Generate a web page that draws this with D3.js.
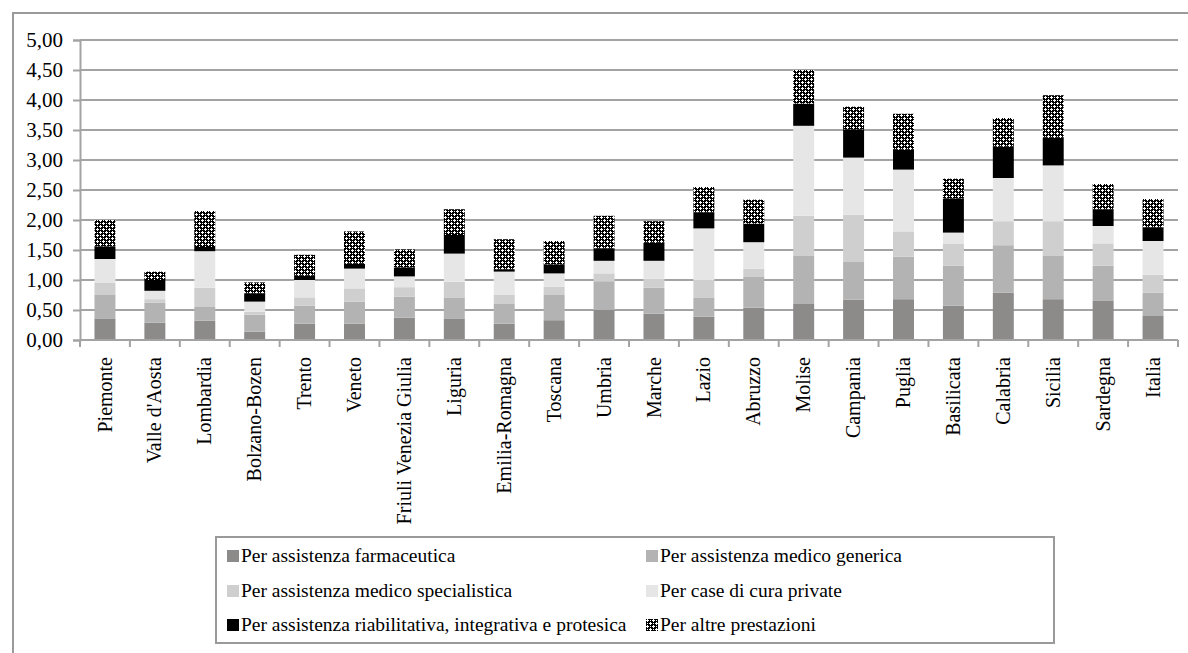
<!DOCTYPE html>
<html>
<head>
<meta charset="utf-8">
<script src="https://cdn.jsdelivr.net/npm/d3@7"></script>
<style>
  body { margin: 0; background: #fff; }
  svg { display: block; }
  svg text { font-family: "Liberation Serif", "DejaVu Serif", serif !important; fill: #000; }
</style>
</head>
<body>
<svg id="chart" width="1188" height="653"></svg>
<script>
// Regions (x categories)
const regions = ["Piemonte", "Valle d'Aosta", "Lombardia", "Bolzano-Bozen", "Trento", "Veneto",
  "Friuli Venezia Giulia", "Liguria", "Emilia-Romagna", "Toscana", "Umbria", "Marche", "Lazio",
  "Abruzzo", "Molise", "Campania", "Puglia", "Basilicata", "Calabria", "Sicilia", "Sardegna", "Italia"];

// Stacked components, bottom to top
const farmaceutica   = [0.36, 0.29, 0.32, 0.14, 0.27, 0.27, 0.37, 0.36, 0.27, 0.33, 0.50, 0.44, 0.39, 0.54, 0.60, 0.67, 0.68, 0.57, 0.79, 0.68, 0.66, 0.40];
const medicoGenerica = [0.39, 0.33, 0.23, 0.28, 0.30, 0.37, 0.35, 0.35, 0.33, 0.42, 0.48, 0.43, 0.32, 0.51, 0.81, 0.63, 0.71, 0.67, 0.79, 0.73, 0.58, 0.39];
const medicoSpecial  = [0.20, 0.06, 0.32, 0.05, 0.14, 0.22, 0.16, 0.26, 0.15, 0.14, 0.13, 0.15, 0.29, 0.14, 0.66, 0.79, 0.42, 0.36, 0.40, 0.57, 0.37, 0.30];
const caseCura       = [0.40, 0.14, 0.61, 0.17, 0.29, 0.33, 0.18, 0.47, 0.39, 0.22, 0.21, 0.30, 0.86, 0.44, 1.50, 0.95, 1.03, 0.19, 0.72, 0.93, 0.29, 0.56];
const riabilitativa  = [0.21, 0.18, 0.07, 0.14, 0.07, 0.08, 0.15, 0.31, 0.04, 0.15, 0.21, 0.30, 0.27, 0.31, 0.37, 0.47, 0.33, 0.57, 0.52, 0.46, 0.28, 0.23];
const altre          = [0.44, 0.14, 0.60, 0.18, 0.35, 0.54, 0.30, 0.43, 0.50, 0.39, 0.54, 0.36, 0.42, 0.40, 0.56, 0.38, 0.60, 0.33, 0.48, 0.71, 0.42, 0.47];

const seriesNames = [
  "Per assistenza farmaceutica",
  "Per assistenza medico generica",
  "Per assistenza medico specialistica",
  "Per case di cura private",
  "Per assistenza riabilitativa, integrativa e protesica",
  "Per altre prestazioni"
];
const seriesValues = [farmaceutica, medicoGenerica, medicoSpecial, caseCura, riabilitativa, altre];
const seriesFills = ["#8d8a8a", "#b3b3b3", "#cfcfcf", "#e6e6e6", "#000000", "url(#dots)"];

const yTicks = [0, 0.5, 1, 1.5, 2, 2.5, 3, 3.5, 4, 4.5, 5];

// Table for d3.stack
const table = regions.map((r, i) => {
  const row = { region: r };
  seriesNames.forEach((s, k) => row[s] = seriesValues[k][i]);
  return row;
});

const FONT = '"Liberation Serif", "DejaVu Serif", serif';
const svg = d3.select("#chart");
const plot = { left: 80, right: 1178, top: 40, bottom: 340 };
const gridColor = "#a3a3a3";

// Checker-cross fill for the last series
const defs = svg.append("defs");
const pat = defs.append("pattern").attr("id", "dots")
  .attr("patternUnits", "userSpaceOnUse").attr("width", 6).attr("height", 6);
pat.append("rect").attr("width", 6).attr("height", 6).attr("fill", "#000");
const whitePx = [[1,0],[0,1],[1,1],[2,1],[1,2],[4,3],[3,4],[4,4],[5,4],[4,5],[4,1],[1,4]];
pat.selectAll("rect.px").data(whitePx).join("rect").attr("class", "px")
  .attr("x", d => d[0]).attr("y", d => d[1]).attr("width", 1).attr("height", 1)
  .attr("fill", "#fff").attr("shape-rendering", "crispEdges");

// Chart frame (top and left edges)
svg.append("line").attr("x1", 12).attr("x2", 1188).attr("y1", 13).attr("y2", 13)
  .attr("stroke", "#9a9a9a").attr("stroke-width", 2);
svg.append("line").attr("x1", 13).attr("x2", 13).attr("y1", 12).attr("y2", 653)
  .attr("stroke", "#9a9a9a").attr("stroke-width", 2);

const x = d3.scaleBand().domain(regions).range([plot.left, plot.right])
  .paddingInner(0.58).paddingOuter(0.29);
const y = d3.scaleLinear().domain([0, 5]).range([plot.bottom, plot.top]);

const it = d3.formatLocale({ decimal: ",", thousands: ".", grouping: [3], currency: ["€", ""] });
const fmt = it.format(".2f");

// Gridlines
svg.append("g").selectAll("line").data(yTicks.filter(d => d > 0)).join("line")
  .attr("x1", plot.left).attr("x2", plot.right)
  .attr("y1", d => y(d)).attr("y2", d => y(d))
  .attr("stroke", gridColor).attr("stroke-width", 2);

// Y axis
const yAxis = svg.append("g").attr("transform", `translate(${plot.left},0)`)
  .call(d3.axisLeft(y).tickValues(yTicks).tickFormat(fmt).tickSize(7).tickPadding(10))
  .attr("font-family", FONT).attr("font-size", 21);
yAxis.select(".domain").attr("stroke", gridColor).attr("stroke-width", 2);
yAxis.selectAll(".tick line").attr("stroke", gridColor).attr("stroke-width", 2);
yAxis.selectAll("text").attr("font-family", FONT).attr("font-size", 21).attr("fill", "#000");

// Stacked bars
const stack = d3.stack().keys(seriesNames)(table);
svg.append("g").selectAll("g").data(stack).join("g")
  .attr("fill", (d, i) => seriesFills[i])
  .selectAll("rect").data(d => d).join("rect")
  .attr("x", d => x(d.data.region))
  .attr("width", x.bandwidth())
  .attr("y", d => y(d[1]))
  .attr("height", d => y(d[0]) - y(d[1]));

// X axis with category labels
const xAxis = svg.append("g").attr("transform", `translate(0,${plot.bottom})`)
  .call(d3.axisBottom(x).tickSize(0).tickPadding(0))
  .attr("font-family", FONT).attr("font-size", 20);
xAxis.select(".domain").remove();
xAxis.selectAll(".tick text")
  .attr("transform", "rotate(-90)")
  .attr("x", -17).attr("y", 0).attr("dy", "0.33em")
  .attr("text-anchor", "end")
  .attr("font-family", FONT).attr("font-size", 20).attr("fill", "#000");
svg.append("line").attr("x1", plot.left).attr("x2", plot.right)
  .attr("y1", plot.bottom).attr("y2", plot.bottom)
  .attr("stroke", gridColor).attr("stroke-width", 2);
// Category boundary ticks
const bounds = d3.range(regions.length + 1).map(i => plot.left + i * x.step());
svg.append("g").selectAll("line").data(bounds).join("line")
  .attr("x1", d => d).attr("x2", d => d)
  .attr("y1", plot.bottom).attr("y2", plot.bottom + 7)
  .attr("stroke", gridColor).attr("stroke-width", 2);

// Legend
const lg = svg.append("g");
lg.append("rect").attr("x", 216).attr("y", 537).attr("width", 838).attr("height", 106)
  .attr("fill", "#fff").attr("stroke", "#9a9a9a").attr("stroke-width", 2);
const colX = [227, 646];
const rowY = [556, 591, 625];
const items = lg.selectAll("g.item").data(seriesNames).join("g").attr("class", "item")
  .attr("transform", (d, i) => `translate(${colX[i % 2]},${rowY[Math.floor(i / 2)]})`);
items.append("rect").attr("x", 0).attr("y", -6).attr("width", 12).attr("height", 12)
  .attr("fill", (d, i) => seriesFills[i]);
items.append("text").attr("x", 14).attr("y", 6)
  .attr("font-family", FONT).attr("font-size", 19.5).text(d => d);
</script>
</body>
</html>
